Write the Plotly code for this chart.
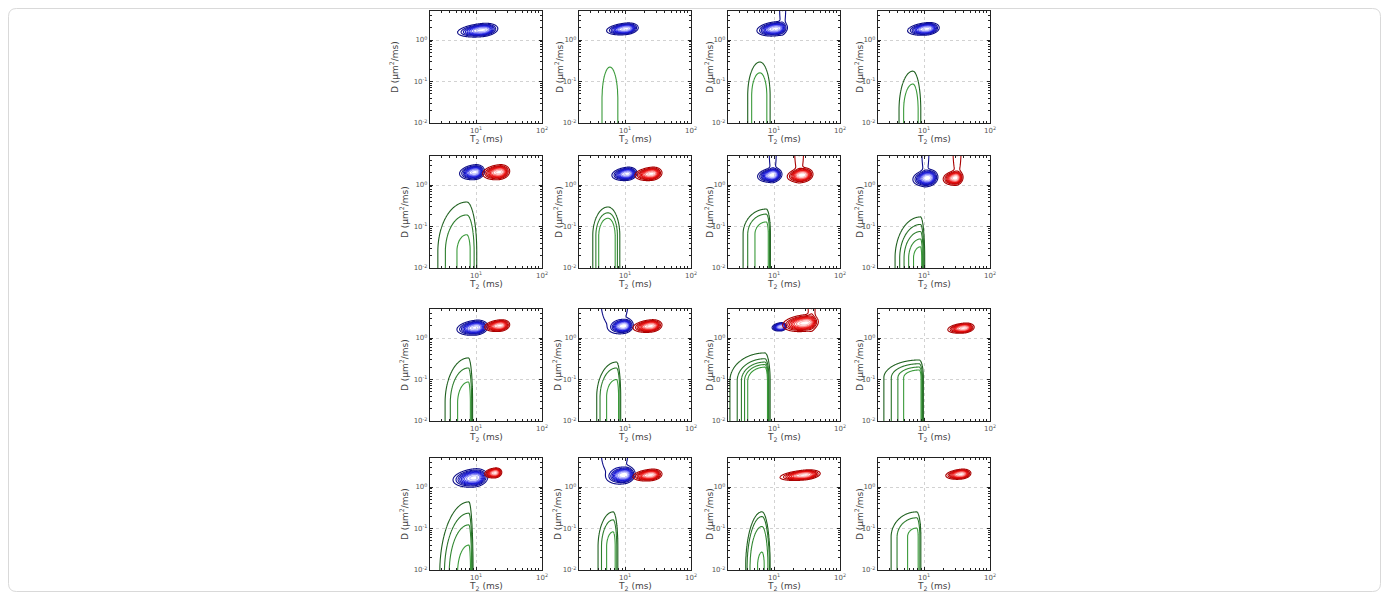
import numpy as np
import plotly.graph_objects as go

# ---------------- data (log10 units) ----------------
# panels are numbered row by row in the 4 x 4 grid
T2_RANGE = [2.0, 100.0]       # ms
D_RANGE = [0.01, 5.0]         # um^2/ms

# blue / red peaks: left and right extent of the outermost contour in log10(T2),
# centre and half height in log10(D)
blue_left   = [0.72, 0.72, 0.74, 0.75, 0.75, 0.80, 0.75, 0.83, 0.71, 0.77, 0.97, None, 0.65, 0.74, None, None]
blue_right  = [1.33, 1.20, 1.20, 1.23, 1.13, 1.18, 1.12, 1.21, 1.18, 1.12, 1.19, None, 1.18, 1.15, None, None]
blue_center = [0.24, 0.27, 0.27, 0.27, 0.31, 0.27, 0.24, 0.17, 0.25, 0.29, 0.27, None, 0.22, 0.29, None, None]
blue_half   = [0.16, 0.14, 0.17, 0.15, 0.18, 0.16, 0.17, 0.20, 0.18, 0.17, 0.10, None, 0.22, 0.20, None, None]
red_left    = [None, None, None, None, 1.10, 1.15, 1.20, 1.29, 1.13, 1.12, 1.13, 1.36, 1.13, 1.12, 1.09, 1.33]
red_right   = [None, None, None, None, 1.51, 1.56, 1.59, 1.59, 1.51, 1.56, 1.67, 1.76, 1.39, 1.56, 1.70, 1.71]
red_center  = [None, None, None, None, 0.31, 0.27, 0.24, 0.17, 0.30, 0.29, 0.36, 0.24, 0.34, 0.29, 0.29, 0.31]
red_half    = [None, None, None, None, 0.18, 0.16, 0.17, 0.17, 0.14, 0.15, 0.20, 0.12, 0.12, 0.14, 0.12, 0.12]
# faint lobes running off the top edge: position and width in log10(T2)
blue_tail_at    = [None, None, 1.13, None, None, None, 0.98, 1.02, None, 0.84, None, None, None, 0.84, None, None]
blue_tail_width = [None, None, 0.035, None, None, None, 0.04, 0.04, None, 0.15, None, None, None, 0.15, None, None]
red_tail_at     = [None, None, None, None, None, None, 1.38, 1.50, None, None, 1.57, None, None, None, None, None]
red_tail_width  = [None, None, None, None, None, None, 0.05, 0.045, None, None, 0.04, None, None, None, None, None]

# green arches: tops of each contour (log10 D), feet of outer and innermost arch (log10 T2)
green_tops = [
    [], [-0.65], [-0.53, -0.79], [-0.75, -1.06],
    [-0.41, -0.72, -1.20], [-0.53, -0.67, -0.80], [-0.58, -0.70, -0.89], [-0.77, -0.95, -1.12, -1.30, -1.49],
    [-0.48, -0.72, -1.06], [-0.58, -0.72, -1.00], [-0.36, -0.50, -0.58, -0.64, -0.70], [-0.53, -0.62, -0.70, -0.77],
    [-0.36, -0.63, -0.91, -1.40], [-0.60, -0.79, -1.08], [-0.60, -0.71, -0.95, -1.57], [-0.60, -0.74, -0.99],
]
green_outer_feet = [None, (0.65, 0.89), (0.60, 0.94), (0.62, 0.95),
                    (0.42, 1.01), (0.51, 0.92), (0.53, 0.94), (0.56, 0.96),
                    (0.53, 0.94), (0.57, 0.89), (0.33, 0.94), (0.39, 0.98),
                    (0.45, 0.94), (0.59, 0.89), (0.57, 0.94), (0.50, 0.95)]
green_inner_feet = [None, None, (0.66, 0.89), (0.69, 0.91),
                    (0.71, 0.91), (0.60, 0.85), (0.71, 0.91), (0.84, 0.95),
                    (0.72, 0.91), (0.72, 0.88), (0.60, 0.90), (0.69, 0.95),
                    (0.72, 0.91), (0.72, 0.85), (0.75, 0.85), (0.75, 0.91)]

x_tick_vals = [10, 100]
x_tick_text = ["10<sup>1</sup>", "10<sup>2</sup>"]
y_tick_vals = [0.01, 0.1, 1]
y_tick_text = ["10<sup>-2</sup>", "10<sup>-1</sup>", "10<sup>0</sup>"]
x_title = "T<sub>2</sub> (ms)"
y_title = "D (μm<sup>2</sup>/ms)"

# ---------------- layout constants ----------------
OFF = 8                      # page margin of the html body
W, H = 1389 - 2 * OFF, 600 - 2 * OFF
PANEL_LEFT = [430, 579, 728, 878]
PANEL_TOP = [11, 156, 309, 458]
PANEL = 112
YTITLE_GAP = [[36, 20, 19, 19], [26, 21, 19, 19], [26, 22, 19, 19], [26, 22, 19, 19]]
XTITLE_GAP = 16

PEAK_START, PEAK_END, PEAK_STEP = 0.08, 0.96, 0.11
PEAK_POWER = 1.4
TILT = 0.15
LO = 0.2
MIN_RIGHT = 0.035

BLUE_SCALE = [[0, "#0e0e88"], [0.6, "#1a1ae0"], [1, "#c0c0ff"]]
RED_SCALE = [[0, "#a80000"], [0.6, "#ec0e0e"], [1, "#ffc0c0"]]
GREEN_SCALE = [[0, "#1f601f"], [1, "#3a9a3a"]]
FONT = "DejaVu Sans"

# grids
pu = np.arange(0.35, 2.05, 0.006)
pv = np.arange(-0.35, 1.1, 0.008)
PU, PV = np.meshgrid(pu, pv)
gu = np.arange(0.0, 1.3, 0.005)
gv = np.arange(-2.6, 0.3, 0.012)
GU, GV = np.meshgrid(gu, gv)

K = (2 * np.log(1 / PEAK_START)) ** (1 / (2 * PEAK_POWER))


def peak_field(left, right, vc, half, tail_at, tail_w):
    uc = left + 0.62 * (right - left)
    sl, sr, sv = (uc - left) / K, (right - uc) / K, half / K
    du = PU - uc
    s = np.where(du < 0, sl, sr)
    dv = PV - vc - TILT * du
    r2 = (du / s) ** 2 + (dv / sv) ** 2
    f = np.exp(-0.5 * r2 ** PEAK_POWER)
    if tail_at is not None:
        f = f + 0.2 * np.exp(-0.5 * (((PU - tail_at) / tail_w) ** 2 + ((PV - 0.85) / 0.45) ** 2))
    return f.astype(np.float32)


def green_field(tops, outer, inner):
    ol, orr = outer
    rho = np.sqrt(2 * np.log(1 / LO))
    if inner is None or len(tops) == 1:
        uc = 0.5 * (ol + orr)
        vb = tops[0] - 0.75
    else:
        il, ir = inner
        q = (ir - il) / (orr - ol)
        uc = (il - q * ol) / (1 - q)
        vb = (tops[-1] - q * tops[0]) / (1 - q)
    sl = max((uc - ol) / rho, 0.02)
    sr = max((orr - uc) / rho, MIN_RIGHT)
    sv = (tops[0] - vb) / rho
    du = GU - uc
    s = np.where(du < 0, sl, sr)
    dv = np.maximum(GV - vb, 0)
    f = np.exp(-0.5 * ((du / s) ** 2 + (dv / sv) ** 2))
    levels = sorted(float(np.exp(-0.5 * ((t - vb) / sv) ** 2)) for t in tops)
    n = len(levels)
    g = np.interp(f, [0.0] + levels + [1.01], list(range(0, n + 2)))
    return g.astype(np.float32), n


fig = go.Figure()
layout = {}
annotations = []
for i in range(16):
    r, c = divmod(i, 4)
    sfx = "" if i == 0 else str(i + 1)
    xa, ya = "x" + sfx, "y" + sfx
    left = PANEL_LEFT[c] - OFF
    top = PANEL_TOP[r] - OFF
    x0, x1 = left / W, (left + PANEL) / W
    y1, y0 = 1 - top / H, 1 - (top + PANEL) / H
    common = dict(
        type="log", showline=True, linecolor="#222", linewidth=1.3, mirror="ticks",
        ticks="inside", ticklen=3, tickcolor="#222", tickwidth=1,
        showgrid=True, gridcolor="#d2d2d2", griddash="dot", gridwidth=1,
        zeroline=False, tickfont=dict(size=7, color="#555", family=FONT),
        automargin=False, fixedrange=True,
    )
    layout["xaxis" + sfx] = dict(
        common, domain=[x0, x1], anchor=ya,
        range=[np.log10(T2_RANGE[0]), np.log10(T2_RANGE[1])],
        tickmode="array", tickvals=x_tick_vals, ticktext=x_tick_text,
        minor=dict(ticks="inside", ticklen=1.5, tickcolor="#222", tickmode="array",
                   tickvals=[2, 3, 4, 5, 6, 7, 8, 9, 20, 30, 40, 50, 60, 70, 80, 90]),
    )
    layout["yaxis" + sfx] = dict(
        common, domain=[y0, y1], anchor=xa,
        range=[np.log10(D_RANGE[0]), np.log10(D_RANGE[1])],
        tickmode="array", tickvals=y_tick_vals, ticktext=y_tick_text,
        minor=dict(ticks="inside", ticklen=1.5, tickcolor="#222", tickmode="array",
                   tickvals=[0.02, 0.03, 0.04, 0.05, 0.06, 0.07, 0.08, 0.09,
                             0.2, 0.3, 0.4, 0.5, 0.6, 0.7, 0.8, 0.9, 2, 3, 4, 5]),
    )
    # axis titles
    annotations.append(dict(
        text=x_title, xref="paper", yref="paper", showarrow=False,
        x=(left + PANEL / 2) / W, y=1 - (top + PANEL + XTITLE_GAP) / H,
        xanchor="center", yanchor="middle",
        font=dict(size=9, color="#444", family=FONT),
    ))
    annotations.append(dict(
        text=y_title, xref="paper", yref="paper", showarrow=False, textangle=-90,
        x=(left - YTITLE_GAP[r][c]) / W, y=1 - (top + PANEL / 2) / H,
        xanchor="center", yanchor="middle",
        font=dict(size=9, color="#444", family=FONT),
    ))

    if green_tops[i]:
        g, n = green_field(green_tops[i], green_outer_feet[i], green_inner_feet[i])
        fig.add_trace(go.Contour(
            x=10 ** gu, y=10 ** gv, z=g, xaxis=xa, yaxis=ya,
            autocontour=False, contours=dict(coloring="lines", start=1, end=n, size=1),
            colorscale=GREEN_SCALE, zauto=False, zmin=1, zmax=max(n, 2),
            line=dict(width=1.1), showscale=False, hoverinfo="skip",
        ))
    if blue_left[i] is not None:
        f = peak_field(blue_left[i], blue_right[i], blue_center[i], blue_half[i],
                       blue_tail_at[i], blue_tail_width[i])
        fig.add_trace(go.Contour(
            x=10 ** pu, y=10 ** pv, z=f, xaxis=xa, yaxis=ya,
            autocontour=False, contours=dict(coloring="lines", start=PEAK_START, end=PEAK_END, size=PEAK_STEP),
            colorscale=BLUE_SCALE, zauto=False, zmin=PEAK_START, zmax=PEAK_END,
            line=dict(width=1.1), showscale=False, hoverinfo="skip",
        ))
    if red_left[i] is not None:
        f = peak_field(red_left[i], red_right[i], red_center[i], red_half[i],
                       red_tail_at[i], red_tail_width[i])
        fig.add_trace(go.Contour(
            x=10 ** pu, y=10 ** pv, z=f, xaxis=xa, yaxis=ya,
            autocontour=False, contours=dict(coloring="lines", start=PEAK_START, end=PEAK_END, size=PEAK_STEP),
            colorscale=RED_SCALE, zauto=False, zmin=PEAK_START, zmax=PEAK_END,
            line=dict(width=1.1), showscale=False, hoverinfo="skip",
        ))

# rounded card border around the picture
bx0, bx1, by0, by1, rad = 0.5, W - 0.5, 0.5, H - 0.5, 8


def px(x):
    return x / W


def py(y):
    return 1 - y / H


path = (f"M{px(bx0 + rad)},{py(by0)} L{px(bx1 - rad)},{py(by0)} Q{px(bx1)},{py(by0)} {px(bx1)},{py(by0 + rad)} "
        f"L{px(bx1)},{py(by1 - rad)} Q{px(bx1)},{py(by1)} {px(bx1 - rad)},{py(by1)} "
        f"L{px(bx0 + rad)},{py(by1)} Q{px(bx0)},{py(by1)} {px(bx0)},{py(by1 - rad)} "
        f"L{px(bx0)},{py(by0 + rad)} Q{px(bx0)},{py(by0)} {px(bx0 + rad)},{py(by0)} Z")

fig.update_layout(
    width=W, height=H, margin=dict(l=0, r=0, t=0, b=0),
    paper_bgcolor="white", plot_bgcolor="white", showlegend=False,
    shapes=[dict(type="path", xref="paper", yref="paper", path=path,
                 line=dict(color="#d9d9d9", width=1), layer="below")],
    annotations=annotations,
    **layout,
)
fig.write_html("out.html")
